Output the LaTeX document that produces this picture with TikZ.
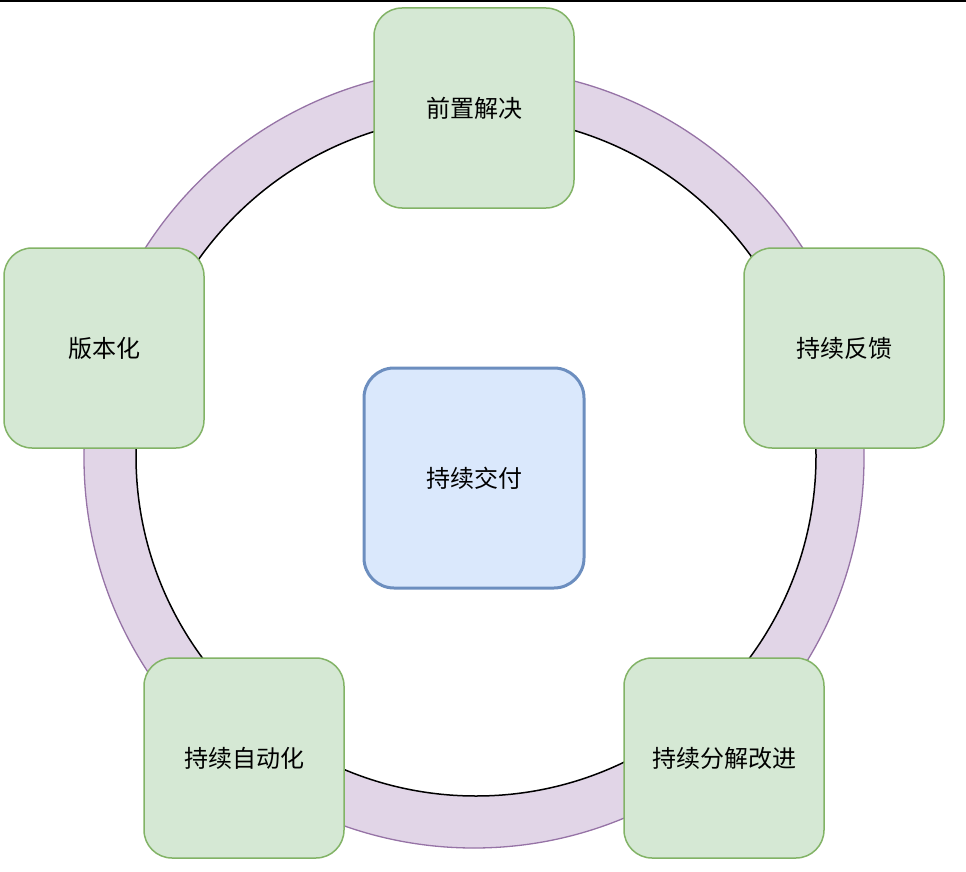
\documentclass[tikz,border=0pt]{standalone}
\usepackage{fontspec}
\setmainfont{Noto Sans CJK SC}
\definecolor{greenfill}{HTML}{D5E8D4}
\definecolor{greenline}{HTML}{82B366}
\definecolor{bluefill}{HTML}{DAE8FC}
\definecolor{blueline}{HTML}{6C8EBF}
\definecolor{ringfill}{HTML}{E1D5E7}
\definecolor{ringline}{HTML}{9673A6}
\begin{document}
\begin{tikzpicture}[x=1pt,y=-1pt]
      \tikzstyle{stage}=[draw=greenline,fill=greenfill,line width=1.5pt,rounded corners=28pt,minimum width=200pt,minimum height=200pt,font=\fontsize{24}{28}\selectfont,inner sep=0pt]
      \tikzstyle{core}=[draw=blueline,fill=bluefill,line width=3pt,rounded corners=30pt,minimum width=220pt,minimum height=220pt,font=\fontsize{24}{28}\selectfont,inner sep=0pt]
      \useasboundingbox (0,0) rectangle (966,872);
      \fill[black] (0,0) rectangle (966,2.3);
      \path[draw=ringline,fill=ringfill,line width=1.3pt] (474,458) circle (390);
      \path[draw=black,fill=white,line width=1.5pt] (476,456) circle (340);
      \node[core] (jiaofu) at (474,478) {持续交付};
      \node[stage] (qianzhi) at (474,108) {前置解决};
      \node[stage] (banben) at (104,348) {版本化};
      \node[stage] (fankui) at (844,348) {持续反馈};
      \node[stage] (zidonghua) at (244,758) {持续自动化};
      \node[stage] (gaijin) at (724,758) {持续分解改进};
    \end{tikzpicture}
\end{document}
